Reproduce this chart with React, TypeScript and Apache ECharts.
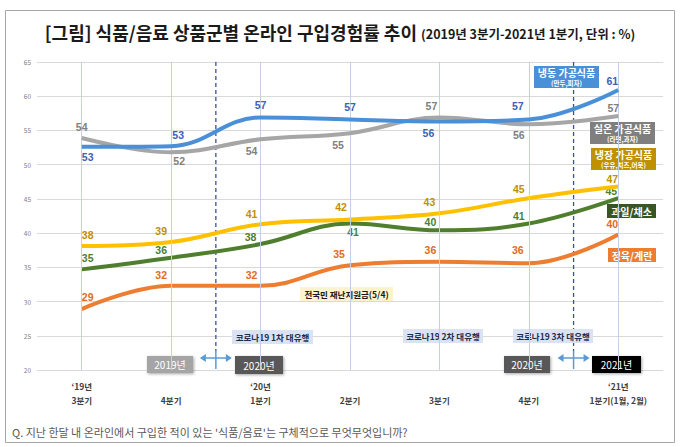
import React, { useEffect, useRef } from 'react';
import * as echarts from 'echarts';

const categories = ['‘19년\n3분기', '\n4분기', '‘20년\n1분기', '\n2분기', '\n3분기', '\n4분기', '‘21년\n1분기(1월, 2월)'];
const yTicks = { min: 20, max: 65, interval: 5 };

const frozenValues = [52.6, 52.7, 56.9, 56.6, 56.3, 56.6, 60.9];
const roomTempValues = [53.9, 51.8, 53.7, 54.6, 56.9, 55.9, 57.1];
const chilledValues = [38.1, 38.7, 41.3, 42.0, 42.9, 45.1, 46.8];
const fruitVegValues = [34.7, 36.4, 38.4, 41.4, 40.4, 41.4, 45.1];
const meatEggValues = [28.9, 32.3, 32.3, 35.3, 35.8, 35.6, 39.8];

const seriesNames = ['냉동 가공식품', '실온 가공식품', '냉장 가공식품', '과일/채소', '정육/계란'];

// label offsets (style only)
const offsFrozen = [[6, 10], [7, -11], [0, -12], [0, -12], [-11, 11], [-11, -13], [-6, -9]];
const offsRoom = [[0, -11], [8, 9], [-9, 12], [-12, 12], [-8, -11], [-10, 11], [-5, -8]];
const offsChilled = [[6, -11], [-10, -11], [-9, -10], [-9, -12], [-10, -11], [-10, -9], [-6, -8]];
const offsFruit = [[6, -11], [-10, -8], [-10, -7], [3, 8], [-9, -8], [-10, -8], [-7, -7]];
const offsMeat = [[6, -12], [-10, -11], [-9, -11], [-11, -11], [-9, -12], [-11, -13], [-6, -10]];

const FONT = '"Noto Sans CJK KR", "Noto Sans", sans-serif';

function makeSeries(name: string, values: number[], color: string, labelColor: string, offs: number[][], z: number) {
  return {
    type: 'line',
    name,
    z,
    smooth: 0.4,
    symbol: 'circle',
    symbolSize: 2,
    showSymbol: true,
    silent: true,
    emphasis: { disabled: true },
    itemStyle: { color: 'rgba(0,0,0,0)' },
    lineStyle: { color, width: 4 },
    label: {
      show: true,
      position: 'inside',
      color: labelColor,
      fontWeight: 'bold',
      fontSize: 10.5,
      fontFamily: '"Liberation Sans", "Noto Sans", sans-serif',
      formatter: (p: any) => String(Math.round(p.value)),
    },
    data: values.map((v, i) => ({ value: v, label: { offset: offs[i] } })),
  };
}

export default function App() {
  const ref = useRef<HTMLDivElement>(null);
  useEffect(() => {
    const chart = echarts.init(ref.current!, null, { renderer: 'svg' });
    const option: any = {
      animation: false,
      textStyle: { fontFamily: FONT },
      title: {
        text: '{a|[그림] 식품/음료 상품군별 온라인 구입경험률 추이} {b|(2019년 3분기-2021년 1분기, 단위 : %)}',
        left: 'center',
        top: 18,
        textStyle: {
          rich: {
            a: { fontSize: 18, fontWeight: 'bold', color: '#1a1a1a', fontFamily: FONT },
            b: { fontSize: 12.5, fontWeight: 'bold', color: '#1a1a1a', fontFamily: FONT, padding: [3, 0, 0, 0] },
          },
        },
      },
      grid: { left: 37, right: 17, top: 62, bottom: 77 },
      xAxis: {
        type: 'category',
        data: categories,
        boundaryGap: true,
        axisLine: { show: false },
        axisTick: { show: false },
        splitLine: { show: false },
        axisLabel: { interval: 0, fontSize: 8.5, fontWeight: 'bold', color: '#404040', lineHeight: 14, margin: 9, fontFamily: FONT },
      },
      yAxis: {
        type: 'value',
        min: yTicks.min,
        max: yTicks.max,
        interval: yTicks.interval,
        axisLine: { show: false },
        axisTick: { show: false },
        axisLabel: { fontSize: 6.5, color: '#808080', margin: 6, fontFamily: FONT },
        splitLine: { lineStyle: { color: '#d9d9d9', width: 1 } },
      },
      series: [
        {
          type: 'line',
          name: 'grid-v',
          data: categories.map(() => null),
          z: 1,
          silent: true,
          symbol: 'none',
          markLine: {
            silent: true,
            symbol: 'none',
            label: { show: false },
            lineStyle: { color: '#c3d0e8', width: 1, type: 'solid' },
            data: categories.map((_c, i) => ({ xAxis: i })),
          },
        },
        makeSeries(seriesNames[4], meatEggValues, '#ed7d31', '#e06c22', offsMeat, 2),
        makeSeries(seriesNames[3], fruitVegValues, '#4f7f2e', '#4f7f2e', offsFruit, 3),
        makeSeries(seriesNames[2], chilledValues, '#ffc000', '#bf9000', offsChilled, 4),
        makeSeries(seriesNames[1], roomTempValues, '#a6a6a6', '#7f7f7f', offsRoom, 5),
        makeSeries(seriesNames[0], frozenValues, '#4a90d9', '#3a62b5', offsFrozen, 6),
      ],
    };
    chart.setOption(option);

    const px = (i: number) => chart.convertToPixel({ xAxisIndex: 0 }, i) as number;
    const py = (v: number) => chart.convertToPixel({ yAxisIndex: 0 }, v) as number;
    const d1 = (px(1) + px(2)) / 2;
    const d2 = (px(5) + px(6)) / 2;
    const top = py(65);
    const bottom = py(20);

    const txt = (text: string, x: number, y: number, size: number, fill: string, weight = 'bold', align = 'center') => ({
      type: 'text',
      x,
      y,
      silent: true,
      style: { text, fill, fontSize: size, fontWeight: weight, fontFamily: FONT, align, verticalAlign: 'middle' },
    });
    const box = (x: number, y: number, w: number, h: number, fill: string, shadow = false) => ({
      type: 'rect',
      silent: true,
      shape: { x, y, width: w, height: h },
      style: shadow
        ? { fill, shadowBlur: 3, shadowColor: 'rgba(0,0,0,0.35)', shadowOffsetX: 1, shadowOffsetY: 1 }
        : { fill },
    });
    const arrow = (cx: number) => {
      const ay = 358;
      const c = '#5b9bd5';
      return [
        { type: 'line', silent: true, shape: { x1: cx, y1: 351, x2: cx, y2: bottom - 1 }, style: { stroke: c, lineWidth: 1.5 } },
        { type: 'line', silent: true, shape: { x1: cx - 12, y1: ay, x2: cx + 12, y2: ay }, style: { stroke: c, lineWidth: 1.5 } },
        { type: 'polygon', silent: true, shape: { points: [[cx - 16, ay], [cx - 10, ay - 4], [cx - 10, ay + 4]] }, style: { fill: c } },
        { type: 'polygon', silent: true, shape: { points: [[cx + 16, ay], [cx + 10, ay - 4], [cx + 10, ay + 4]] }, style: { fill: c } },
      ];
    };
    const dashed = (cx: number) => ({
      type: 'line',
      silent: true,
      shape: { x1: cx, y1: top, x2: cx, y2: 351 },
      style: { stroke: '#3b4fa0', lineWidth: 1.3, lineDash: [4, 3] },
    });

    const graphic: any[] = [
      { type: 'rect', silent: true, shape: { x: 5.5, y: 10.5, width: 669, height: 432 }, style: { fill: 'none', stroke: '#a6a6a6', lineWidth: 1 } },
      dashed(d1),
      dashed(d2),
      ...arrow(d1),
      ...arrow(d2),
      // legend boxes
      box(534, 66, 65, 22, '#4a90d9'),
      txt('냉동 가공식품', 566.5, 72, 10, '#ffffff'),
      txt('(만두,피자)', 566.5, 83, 6.5, '#ffffff'),
      box(590, 122, 65, 22, '#7f7f7f'),
      txt('실온 가공식품', 622.5, 128, 10, '#ffffff'),
      txt('(라면,과자)', 622.5, 139, 6.5, '#ffffff'),
      box(591, 148, 65, 22, '#bf9000'),
      txt('냉장 가공식품', 623.5, 154, 10, '#ffffff'),
      txt('(우유,치즈,어묵)', 623.5, 165, 6.5, '#ffffff'),
      box(607, 204, 49, 14, '#375623'),
      txt('과일/채소', 631.5, 211, 10, '#ffffff'),
      box(608, 248, 48, 14, '#ed7d31'),
      txt('정육/계란', 632, 255, 10, '#ffffff'),
      // annotations
      box(300, 287, 93, 14, '#fff2cc'),
      txt('전국민 재난지원금(5/4)', 346.5, 294, 8.5, '#1a1a1a'),
      box(232, 330, 81, 14, '#dae3f3'),
      txt('코로나19 1차 대유행', 272.5, 337, 8.5, '#1f2d4d'),
      box(403, 329, 80, 14, '#dae3f3'),
      txt('코로나19 2차 대유행', 443, 336, 8.5, '#1f2d4d'),
      box(513, 329, 80, 14, '#dae3f3'),
      txt('코로나19 3차 대유행', 553, 336, 8.5, '#1f2d4d'),
      // year boxes
      box(147, 356, 46, 17, '#a5a5a5', true),
      txt('2019년', 170, 364.5, 10, '#ffffff', 'normal'),
      box(235, 356, 48, 18, '#595959', true),
      txt('2020년', 259, 365, 10, '#ffffff', 'normal'),
      box(504, 356, 46, 17, '#595959', true),
      txt('2020년', 527, 364.5, 10, '#ffffff', 'normal'),
      box(592, 356, 49, 17, '#000000', true),
      txt('2021년', 616.5, 364.5, 10, '#ffffff', 'normal'),
      // question
      txt("Q. 지난 한달 내 온라인에서 구입한 적이 있는 '식품/음료'는 구체적으로 무엇무엇입니까?", 12, 432, 11, '#595959', 'normal', 'left'),
    ];
    chart.setOption({ graphic });
    return () => chart.dispose();
  }, []);
  return <div ref={ref} style={{ position: 'fixed', left: 0, top: 0, width: 680, height: 447, background: '#ffffff' }} />;
}
